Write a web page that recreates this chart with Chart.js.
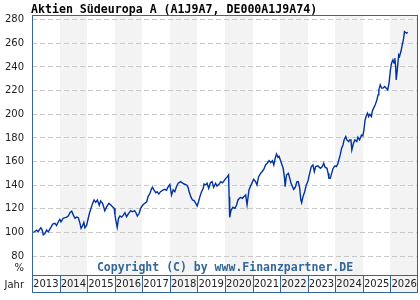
<!DOCTYPE html>
<html>
<head>
<meta charset="utf-8">
<script src="https://cdn.jsdelivr.net/npm/chart.js@4/dist/chart.umd.min.js"></script>
<style>
  html, body { margin: 0; padding: 0; background: #fff; }
  #wrap { width: 420px; height: 300px; }
</style>
</head>
<body>
<div id="wrap"><canvas id="chart" width="420" height="300"></canvas></div>
<script>
// values (index, 100 = start)
const dates = [
  2013.05, 2013.11, 2013.17, 2013.22, 2013.32, 2013.37, 2013.41, 2013.47, 2013.53, 2013.59,
  2013.68, 2013.75, 2013.83, 2013.89, 2013.97, 2014.01, 2014.05, 2014.13, 2014.20, 2014.26,
  2014.32, 2014.38, 2014.44, 2014.50, 2014.56, 2014.62, 2014.68, 2014.74, 2014.78, 2014.84,
  2014.88, 2014.92, 2014.98, 2015.04, 2015.08, 2015.14, 2015.20, 2015.25, 2015.31, 2015.37,
  2015.44, 2015.49, 2015.56, 2015.64, 2015.71, 2015.79, 2015.86, 2015.92, 2015.98, 2016.01,
  2016.04, 2016.09, 2016.14, 2016.19, 2016.25, 2016.31, 2016.37, 2016.43, 2016.49, 2016.58,
  2016.65, 2016.72, 2016.77, 2016.82, 2016.89, 2016.94, 2017.01, 2017.09, 2017.16, 2017.21,
  2017.28, 2017.34, 2017.37, 2017.42, 2017.49, 2017.54, 2017.60, 2017.66, 2017.76, 2017.82,
  2017.88, 2017.94, 2018.00, 2018.06, 2018.12, 2018.18, 2018.24, 2018.30, 2018.39, 2018.45,
  2018.52, 2018.61, 2018.66, 2018.70, 2018.76, 2018.82, 2018.88, 2018.94, 2018.99, 2019.04,
  2019.09, 2019.15, 2019.21, 2019.24, 2019.30, 2019.35, 2019.41, 2019.47, 2019.53, 2019.59,
  2019.66, 2019.71, 2019.79, 2019.85, 2019.91, 2019.97, 2020.03, 2020.09, 2020.13, 2020.15,
  2020.17, 2020.22, 2020.29, 2020.36, 2020.42, 2020.47, 2020.56, 2020.63, 2020.71, 2020.75,
  2020.80, 2020.87, 2020.93, 2021.00, 2021.04, 2021.11, 2021.16, 2021.22, 2021.29, 2021.34,
  2021.41, 2021.47, 2021.53, 2021.60, 2021.66, 2021.72, 2021.77, 2021.82, 2021.87, 2021.92,
  2021.96, 2022.03, 2022.11, 2022.16, 2022.18, 2022.23, 2022.30, 2022.35, 2022.39, 2022.45,
  2022.49, 2022.55, 2022.61, 2022.66, 2022.71, 2022.75, 2022.78, 2022.83, 2022.89, 2022.95,
  2023.01, 2023.07, 2023.13, 2023.19, 2023.24, 2023.29, 2023.37, 2023.46, 2023.53, 2023.58,
  2023.63, 2023.70, 2023.74, 2023.77, 2023.82, 2023.87, 2023.92, 2023.99, 2024.04, 2024.09,
  2024.13, 2024.18, 2024.23, 2024.28, 2024.32, 2024.38, 2024.42, 2024.49, 2024.52, 2024.57,
  2024.60, 2024.66, 2024.71, 2024.78, 2024.82, 2024.88, 2024.95, 2025.00, 2025.04, 2025.08,
  2025.13, 2025.17, 2025.21, 2025.25, 2025.31, 2025.34, 2025.39, 2025.45, 2025.51, 2025.55,
  2025.58, 2025.63, 2025.68, 2025.73, 2025.79, 2025.85, 2025.90, 2025.95, 2026.00, 2026.04,
  2026.09, 2026.13, 2026.16, 2026.19, 2026.21, 2026.25, 2026.30, 2026.33, 2026.38, 2026.43,
  2026.48, 2026.51, 2026.58, 2026.63
];
const values = [
  100, 101, 102, 100.6, 104, 102, 98, 99, 102, 100.5,
  104, 107, 107.7, 106, 109.7, 111, 109, 112, 112.5, 113,
  114, 117, 118, 114.7, 112, 113, 112.5, 107.7, 103.5, 106,
  108.5, 104, 106, 112, 116, 120.4, 124.6, 127.5, 125.5, 127.5,
  123, 126.6, 124.6, 118.4, 121.8, 124.7, 123.2, 121.8, 120.4, 114.7,
  110.5, 104.3, 112, 113.9, 113, 114.7, 116.7, 113.3, 115.5, 118.4,
  117.5, 118.4, 116.7, 113.9, 116.2, 120.4, 123, 124.7, 126, 130.3,
  133.1, 137.4, 138.2, 136, 133.6, 134.5, 132.5, 134.5, 136, 136.5,
  135.7, 138.7, 140.6, 131.7, 136, 134.5, 138.7, 141.6, 143, 142,
  141, 140.2, 138.2, 134.5, 130.3, 127.5, 126.9, 124.7, 122.4, 126,
  130.3, 134.5, 137.3, 141, 140.2, 141.6, 137.3, 142.1, 143, 138.2,
  141.6, 139.3, 141, 143, 142, 143.8, 145.8, 147.2, 148.6, 130.3,
  112.8, 119, 121.3, 120.4, 123.2, 127.5, 129.7, 128.9, 130.8, 131.7,
  123.2, 136, 139.3, 143, 145, 143, 140.2, 147.2, 150, 151.4,
  153.5, 157.1, 158.6, 160.8, 159.1, 160.8, 157.1, 162.8, 166.4, 163.6,
  164.5, 159.9, 154.3, 145.8, 138.7, 148.6, 150, 145.8, 142.1, 138.7,
  136.5, 138.2, 143, 143, 137.3, 127.5, 125.2, 130.3, 134.5, 140.2,
  143.6, 150, 155.7, 157.1, 151.4, 155.7, 156.3, 154.3, 155.7, 158.6,
  155.2, 154.3, 150, 145.8, 145.8, 150, 154.3, 156.3, 155.7, 158,
  161.4, 165.6, 171.3, 174, 178.3, 181.1, 178.3, 176.9, 178.3, 178.3,
  169.8, 175.5, 178.3, 176.9, 180.6, 178.3, 182.5, 181.7, 186.8, 195,
  199, 201, 198, 200, 198.1, 202.3, 205.2, 208, 212.2, 216.4,
  220.7, 224.9, 222.1, 222.1, 223.5, 222.1, 220.7, 226.4, 237.6, 243.3,
  246, 243.3, 247.5, 240.4, 229.1, 237.6, 250.2, 248.9, 253.1, 258.8,
  264.4, 270, 268.6, 269.3
];
const years = [2013, 2014, 2015, 2016, 2017, 2018, 2019, 2020, 2021, 2022, 2023, 2024, 2025, 2026];
const yTicks = [80, 100, 120, 140, 160, 180, 200, 220, 240, 260, 280];

const title = 'Aktien Südeuropa A (A1J9A7, DE000A1J9A74)';
const copyright = 'Copyright (C) by www.Finanzpartner.DE';

const frameColor = '#336699';
const shadeColor = '#f3f3f3';
const cellBottom = 292;

// background bands, year cells, frame and texts
const decoPlugin = {
  id: 'deco',
  beforeDraw(chart) {
    const { ctx, chartArea: a, scales: { x } } = chart;
    ctx.save();
    ctx.fillStyle = '#fff';
    ctx.fillRect(0, 0, chart.width, chart.height);
    years.forEach(yr => {
      if (yr % 2 !== 0) return;
      const x0 = Math.round(x.getPixelForValue(yr));
      const x1 = Math.round(x.getPixelForValue(yr + 1));
      ctx.fillStyle = shadeColor;
      ctx.fillRect(x0, a.top, x1 - x0, cellBottom - a.top);
    });
    ctx.restore();
  },
  afterDraw(chart) {
    const { ctx, chartArea: a, scales: { x } } = chart;
    ctx.save();
    ctx.strokeStyle = frameColor;
    ctx.lineWidth = 1;
    ctx.strokeRect(a.left + 0.5, a.top + 0.5, a.right - a.left - 1, a.bottom - a.top);
    years.forEach(yr => {
      const x0 = Math.round(x.getPixelForValue(yr));
      const x1 = Math.round(x.getPixelForValue(yr + 1));
      ctx.strokeRect(x0 + 0.5, a.bottom + 0.5, x1 - x0 - (yr === 2026 ? 1 : 0), cellBottom - a.bottom);
    });

    ctx.fillStyle = '#000';
    ctx.textAlign = 'left';
    ctx.textBaseline = 'alphabetic';
    ctx.font = 'bold 11.6px "DejaVu Sans Mono"';
    ctx.fillText(title, 31, 12.5);

    ctx.fillStyle = frameColor;
    ctx.textAlign = 'center';
    ctx.font = 'bold 11.5px "DejaVu Sans Mono"';
    ctx.fillText(copyright, (a.left + a.right) / 2, 271);

    ctx.fillStyle = '#222';
    ctx.textAlign = 'right';
    ctx.font = '10px "DejaVu Sans"';
    ctx.fillText('%', 24, 271);
    ctx.fillText('Jahr', 24, 287.5);
    ctx.restore();
  }
};

const ctx = document.getElementById('chart').getContext('2d');
new Chart(ctx, {
  type: 'line',
  data: {
    datasets: [{
      data: dates.map((d, i) => ({ x: d, y: values[i] })),
      borderColor: '#0033a0',
      borderWidth: 1.4,
      pointRadius: 0,
      tension: 0,
      fill: false
    }]
  },
  options: {
    responsive: false,
    animation: false,
    devicePixelRatio: 1,
    layout: { padding: { top: 15, right: 2, left: 0, bottom: 0 } },
    plugins: {
      legend: { display: false },
      tooltip: { enabled: false },
      title: { display: false }
    },
    scales: {
      x: {
        type: 'linear',
        min: 2013,
        max: 2027,
        afterFit: axis => { axis.height = 25; },
        afterBuildTicks: axis => { axis.ticks = years.map(y => ({ value: y + 0.5 })); },
        grid: { display: false, drawTicks: false },
        border: { display: false },
        ticks: {
          autoSkip: false,
          maxRotation: 0,
          padding: 3,
          color: '#222',
          font: { family: 'DejaVu Sans', size: 10 },
          callback: v => String(Math.floor(v))
        }
      },
      y: {
        min: 64,
        max: 284,
        afterFit: axis => { axis.width = 32; },
        afterBuildTicks: axis => { axis.ticks = yTicks.map(v => ({ value: v })); },
        grid: { color: '#c8c8c8', drawTicks: false },
        border: { display: false, dash: [5, 3] },
        ticks: {
          padding: 8,
          color: '#222',
          font: { family: 'DejaVu Sans', size: 10 }
        }
      }
    }
  },
  plugins: [decoPlugin]
});
</script>
</body>
</html>
